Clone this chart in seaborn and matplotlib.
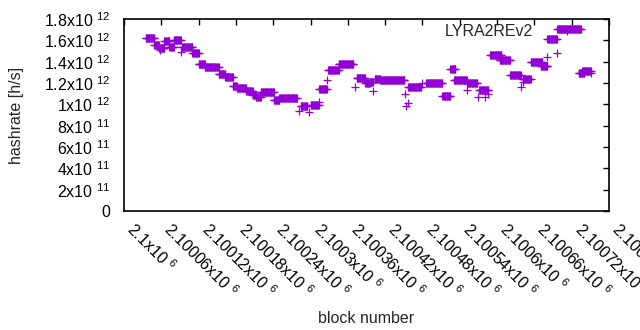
import numpy as np
import pandas as pd
import matplotlib
matplotlib.use('Agg')
import matplotlib.pyplot as plt
import matplotlib.transforms as mtransforms
import seaborn as sns

# hauteur de bloc de depart (les blocs sont donnes en decalage)
BASE = 2100000

# plages de blocs a hashrate constant (debut, fin, valeur en 1e12 h/s)
run_start = [35, 49, 56, 65, 73, 80, 93, 110, 120, 130, 152, 163, 175, 181, 197,
             207, 212, 220, 241, 250, 284, 300, 314, 328, 345, 374, 388, 395, 403,
             412, 457, 486, 512, 525, 531, 552, 571, 589, 604, 621, 641, 654, 670,
             681, 697, 731, 737]
run_end = [49, 56, 65, 73, 80, 91, 110, 120, 130, 152, 163, 175, 181, 197, 207,
           212, 220, 241, 250, 278, 295, 313, 326, 345, 369, 388, 395, 400, 412,
           451, 478, 512, 525, 533, 551, 568, 586, 607, 621, 638, 654, 673, 681,
           696, 735, 740, 751]
run_value = [1.62, 1.56, 1.53, 1.59, 1.54, 1.60, 1.535, 1.48, 1.375, 1.35, 1.28,
             1.255, 1.17, 1.15, 1.125, 1.09, 1.07, 1.12, 1.04, 1.06, 0.98, 0.99,
             1.14, 1.32, 1.375, 1.245, 1.20, 1.21, 1.24, 1.225, 1.16, 1.20, 1.08,
             1.33, 1.23, 1.20, 1.135, 1.46, 1.415, 1.275, 1.24, 1.40, 1.36, 1.61,
             1.705, 1.29, 1.31]

# blocs isoles
single_block = [58, 91, 281, 298, 313, 327, 372, 400, 452, 454, 456, 479, 551,
                570, 580, 586, 639, 641, 680, 697, 751]
single_value = [1.51, 1.49, 0.94, 0.93, 1.02, 1.23, 1.165, 1.125, 1.10, 0.98,
                1.01, 1.20, 1.135, 1.07, 1.07, 1.10, 1.16, 1.21, 1.44, 1.48, 1.29]

blocs = []
valeurs = []
for debut, fin, v in zip(run_start, run_end, run_value):
    b = np.arange(debut, fin + 1)
    blocs.append(b)
    valeurs.append(np.full(len(b), v))
blocs.append(np.array(single_block))
valeurs.append(np.array(single_value))

donnees = pd.DataFrame({
    'block': BASE + np.concatenate(blocs),
    'hashrate': np.concatenate(valeurs) * 1e12,
})

sns.set_style('white')
plt.rcParams['font.family'] = ['Liberation Sans', 'DejaVu Sans']
plt.rcParams['mathtext.default'] = 'regular'
plt.rcParams['font.size'] = 11.5

fig = plt.figure(figsize=(6.4, 3.3), dpi=100)
ax = fig.add_axes([124 / 640, 1 - 211 / 330, 485 / 640, 192 / 330])

violet = '#9400d3'
sns.scatterplot(data=donnees, x='block', y='hashrate', marker='+', s=28,
                color=violet, linewidth=0.9, label='LYRA2REv2', ax=ax)

ax.set_xlim(BASE, BASE + 780)
ax.set_ylim(0, 1.8e12)

def format_sci(v):
    if v == 0:
        return '0'
    e = int(np.floor(np.log10(v) + 1e-9))
    m = v / 10 ** e
    return f'{m:g}x10 $^{{{e}}}$'

xt = np.arange(BASE, BASE + 781, 60)
ax.set_xticks(xt)
ax.set_xticklabels([format_sci(v) for v in xt])
yt = np.arange(0, 1.81e12, 2e11)
ax.set_yticks(yt)
ax.set_yticklabels([format_sci(v) for v in yt])

ax.tick_params(direction='in', length=4, width=1, top=True, right=True,
               labelsize=11.5, colors='black')
ax.tick_params(axis='y', pad=10)
ax.tick_params(axis='x', pad=7)
decalage = mtransforms.ScaledTranslation(0.06, -0.05, fig.dpi_scale_trans)
for t in ax.get_xticklabels():
    t.set_rotation(-45)
    t.set_ha('left')
    t.set_va('center')
    t.set_rotation_mode('anchor')
    t.set_transform(t.get_transform() + decalage)

for s in ax.spines.values():
    s.set_visible(True)
    s.set_color('black')
    s.set_linewidth(1.2)

ax.set_xlabel('block number', fontsize=11.5)
ax.set_ylabel('hashrate [h/s]', fontsize=11.5)
ax.yaxis.set_label_coords(-0.206, 0.5)
ax.xaxis.set_label_coords(0.5, -0.52)

ax.legend(loc='center right', bbox_to_anchor=(0.946, 0.9375), frameon=False,
          markerfirst=False, borderpad=0, borderaxespad=0, handlelength=2,
          handletextpad=1.1, fontsize=11.5)

fig.savefig('out.png', dpi=100)
